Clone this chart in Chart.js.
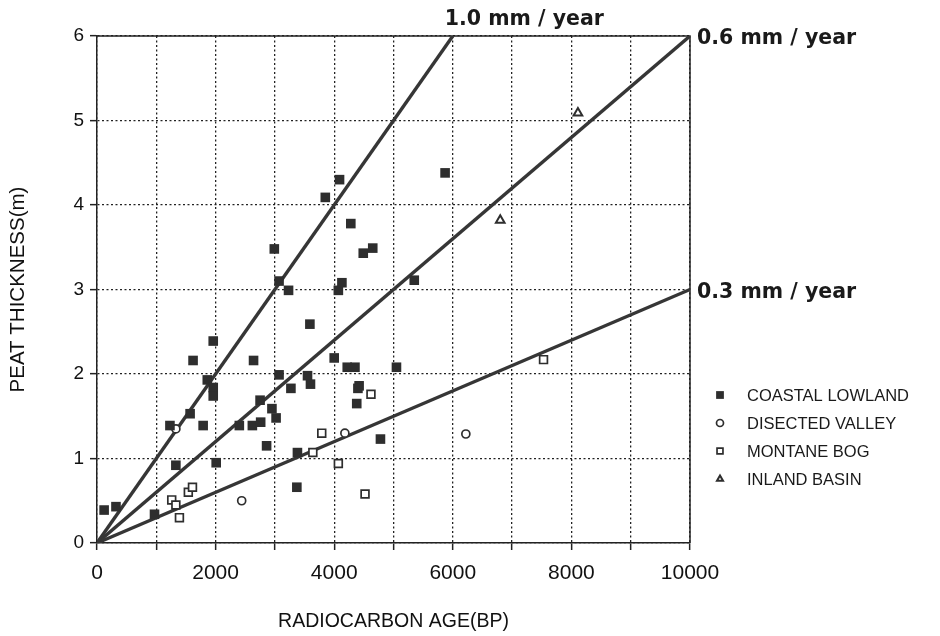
<!DOCTYPE html>
<html>
<head>
<meta charset="utf-8">
<script src="https://cdn.jsdelivr.net/npm/chart.js@4.4.1/dist/chart.umd.min.js"></script>
<style>
  html, body { margin: 0; padding: 0; background: #fff; }
  #wrap { width: 940px; height: 636px; position: relative; }
</style>
</head>
<body>
<div id="wrap"><canvas id="chart"></canvas></div>
<script>
// radiocarbon age (BP) and peat thickness (m)
const coastalAge = [120, 320, 970, 1330, 1230, 1570, 1620, 1790, 2010, 1960, 1860, 1960, 1960,
  2400, 2640, 2620, 2760, 2750, 2860, 2950, 3020, 3070, 3070, 3230, 3270, 3380, 3370, 3590,
  3550, 3600, 4000, 4070, 4130, 4220, 4350, 4420, 4400, 4380, 4780, 5050, 4090, 3850, 4280,
  2990, 4490, 4650, 5870, 5350];
const coastalDepth = [0.39, 0.43, 0.34, 0.92, 1.39, 1.53, 2.16, 1.39, 0.95, 2.39, 1.93, 1.84, 1.74,
  1.39, 2.16, 1.39, 1.43, 1.69, 1.15, 1.59, 1.48, 1.99, 3.10, 2.99, 1.83, 1.07, 0.66, 2.59,
  1.98, 1.88, 2.19, 2.99, 3.08, 2.08, 2.08, 1.86, 1.83, 1.65, 1.23, 2.08, 4.30, 4.09, 3.78,
  3.48, 3.43, 3.49, 4.38, 3.11];

const valleyAge = [1330, 2440, 4180, 6220];
const valleyDepth = [1.35, 0.50, 1.30, 1.29];

const montaneAge = [1260, 1330, 1390, 1540, 1610, 3640, 3790, 4070, 4620, 4520, 7530];
const montaneDepth = [0.51, 0.45, 0.30, 0.60, 0.66, 1.07, 1.30, 0.94, 1.76, 0.58, 2.17];

const inlandAge = [8110, 6800];
const inlandDepth = [5.09, 3.82];

const seriesNames = ['COASTAL LOWLAND', 'DISECTED VALLEY', 'MONTANE BOG', 'INLAND BASIN'];

// accumulation-rate reference lines, from the origin to where they leave the plot
const rateLabels = ['1.0 mm / year', '0.6 mm / year', '0.3 mm / year'];
const rateEndAge = [6000, 10000, 10000];
const rateEndDepth = [6, 6, 3];

const xTicks = [0, 2000, 4000, 6000, 8000, 10000];

const ink = '#2e2e2e';
const pts = (xs, ys) => xs.map((x, i) => ({ x: x, y: ys[i] }));

const datasets = [
  { label: seriesNames[0], data: pts(coastalAge, coastalDepth), pointStyle: 'rect', pointRadius: 6.8,
    backgroundColor: ink, borderColor: ink, borderWidth: 0 },
  { label: seriesNames[1], data: pts(valleyAge, valleyDepth), pointStyle: 'circle', pointRadius: 4,
    backgroundColor: '#fff', borderColor: ink, borderWidth: 1.7 },
  { label: seriesNames[2], data: pts(montaneAge, montaneDepth), pointStyle: 'rect', pointRadius: 5.5,
    backgroundColor: '#fff', borderColor: ink, borderWidth: 1.7 },
  { label: seriesNames[3], data: pts(inlandAge, inlandDepth), pointStyle: 'triangle', pointRadius: 5,
    backgroundColor: '#fff', borderColor: ink, borderWidth: 2 }
];
rateLabels.forEach((lab, i) => {
  datasets.push({
    type: 'line', label: lab, isRate: true,
    data: [{ x: 0, y: 0 }, { x: rateEndAge[i], y: rateEndDepth[i] }],
    borderColor: '#363636', borderWidth: 3.4, pointRadius: 0, fill: false, order: 5
  });
});

// solid frame on top/right, rate labels and legend
const extras = {
  id: 'extras',
  beforeDatasetsDraw(chart) {
    const { ctx, chartArea: a } = chart;
    ctx.save();
    ctx.strokeStyle = '#222';
    ctx.lineWidth = 1.5;
    ctx.beginPath();
    ctx.moveTo(a.left, a.top);
    ctx.lineTo(a.right, a.top);
    ctx.lineTo(a.right, a.bottom);
    ctx.stroke();
    ctx.restore();
  },
  afterDraw(chart) {
    const { ctx } = chart;
    const xs = chart.scales.x, ys = chart.scales.y;
    ctx.save();
    ctx.fillStyle = '#1a1a1a';
    ctx.font = 'bold 20.5px "DejaVu Sans"';
    ctx.textBaseline = 'middle';
    ctx.textAlign = 'left';
    rateLabels.forEach((lab, i) => {
      const px = xs.getPixelForValue(rateEndAge[i]);
      const py = ys.getPixelForValue(rateEndDepth[i]);
      if (i === 0) ctx.fillText(lab, px - 8, py - 16);
      else ctx.fillText(lab, px + 7, py + 3);
    });

    ctx.font = '16.5px "Liberation Sans", Arial, sans-serif';
    chart.data.datasets.filter(d => !d.isRate).forEach((d, i) => {
      const y = 395 + i * 28;
      ctx.fillStyle = d.backgroundColor;
      ctx.strokeStyle = d.borderColor;
      ctx.lineWidth = d.borderWidth;
      Chart.helpers.drawPoint(ctx, {
        pointStyle: d.pointStyle,
        radius: d.pointStyle === 'rect' ? (i === 0 ? 5.5 : 4.2) : 3.5,
        rotation: 0,
        borderWidth: d.borderWidth
      }, 720, y);
      ctx.fillStyle = '#1a1a1a';
      ctx.fillText(d.label, 747, y + 1);
    });
    ctx.restore();
  }
};

new Chart(document.getElementById('chart'), {
  type: 'scatter',
  data: { datasets: datasets },
  options: {
    responsive: true,
    maintainAspectRatio: false,
    animation: false,
    layout: { padding: { top: 36, right: 250, bottom: 0, left: 0 } },
    plugins: { legend: { display: false }, tooltip: { enabled: false } },
    scales: {
      x: {
        type: 'linear', min: 0, max: 10000,
        afterFit(s) { s.height = 93; },
        ticks: {
          stepSize: 1000, autoSkip: false, maxRotation: 0, padding: 11, color: '#111',
          font: { family: '"Liberation Sans", Arial', size: 21 },
          callback: v => xTicks.includes(v) ? String(v) : ''
        },
        grid: { color: '#222', lineWidth: 1.3, tickLength: 7, tickColor: '#222', tickWidth: 1.5, tickBorderDash: [] },
        border: { color: '#222', width: 1.5, dash: [2, 2.5] },
        title: {
          display: true, text: 'RADIOCARBON AGE(BP)', color: '#111',
          font: { family: '"Liberation Sans", Arial', size: 19.5 },
          padding: { top: 0, bottom: 3 }
        }
      },
      y: {
        type: 'linear', min: 0, max: 6,
        afterFit(s) { s.width = 97; },
        ticks: {
          stepSize: 1, padding: 6, color: '#111',
          font: { family: '"Liberation Sans", Arial', size: 19 }
        },
        grid: { color: '#222', lineWidth: 1.3, tickLength: 7, tickColor: '#222', tickWidth: 1.5, tickBorderDash: [] },
        border: { color: '#222', width: 1.5, dash: [2, 2.5] },
        title: {
          display: true, text: 'PEAT THICKNESS(m)', color: '#111',
          font: { family: '"Liberation Sans", Arial', size: 20.5 },
          padding: { top: 6, bottom: 0 }
        }
      }
    }
  },
  plugins: [extras]
});
</script>
</body>
</html>
